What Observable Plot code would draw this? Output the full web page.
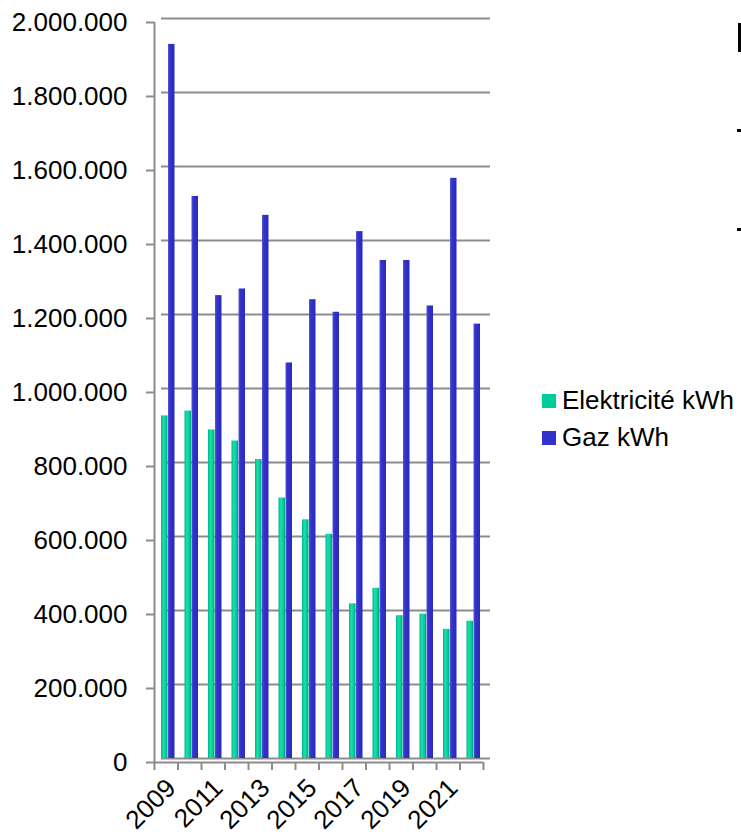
<!DOCTYPE html>
<html>
<head>
<meta charset="utf-8">
<script src="https://cdn.jsdelivr.net/npm/d3@7"></script>
<script src="https://cdn.jsdelivr.net/npm/@observablehq/plot@0.6"></script>
<style>
  html, body { margin: 0; padding: 0; background: #fff; overflow: hidden; }
  body { width: 741px; height: 835px; position: relative; font-family: "Liberation Sans", Arial, sans-serif; }
  #chart { position: absolute; left: 0; top: 0; }
  .legend { position: absolute; left: 542px; top: 382px; font-size: 26px; color: #000; line-height: 37px; }
  .legend div { display: flex; align-items: center; white-space: nowrap; }
  .legend span.sw { display: inline-block; width: 14px; height: 14px; margin-right: 6px; }
  .frag { position: absolute; background: #000; }
</style>
</head>
<body>
<div id="chart"></div>
<div class="legend" id="legend"></div>
<div class="frag" style="left:738px; top:23px; width:3px; height:29px;"></div>
<div class="frag" style="left:737px; top:129px; width:4px; height:3px;"></div>
<div class="frag" style="left:737px; top:228px; width:4px; height:3px;"></div>
<script>
const years = [2009, 2010, 2011, 2012, 2013, 2014, 2015, 2016, 2017, 2018, 2019, 2020, 2021, 2022];
const elektricite = [926000, 939000, 888000, 858000, 808000, 704000, 645000, 606000, 418000, 460000, 386000, 390000, 349000, 371000];
const gaz = [1930000, 1519000, 1251000, 1269000, 1468000, 1069000, 1240000, 1206000, 1424000, 1346000, 1346000, 1223000, 1568000, 1174000];
const yTicks = [0, 200000, 400000, 600000, 800000, 1000000, 1200000, 1400000, 1600000, 1800000, 2000000];
const yearLabels = [2009, 2011, 2013, 2015, 2017, 2019, 2021];
const seriesNames = ["Elektricité kWh", "Gaz kWh"];
const seriesColors = ["#00CC99", "#3333CC"];

const locale = d3.formatLocale({decimal: ",", thousands: ".", grouping: [3], currency: ["", " €"]});
const fmt = locale.format(",d");

const rows = years.map((y, i) => ({i, year: y, elek: elektricite[i], gaz: gaz[i]}));
const grid = "#8c8c8c";

const chart = Plot.plot({
  width: 741,
  height: 835,
  marginLeft: 154,
  marginRight: 258,
  marginTop: 22,
  marginBottom: 73,
  x: {type: "linear", domain: [0, years.length], axis: null, label: null},
  y: {domain: [0, 2000000], axis: null, label: null},
  style: {fontFamily: "'Liberation Sans', Arial, sans-serif", fontSize: "26px", color: "#000", background: "transparent", overflow: "visible"},
  marks: [
    Plot.ruleY(yTicks, {x1: 0, x2: years.length, dx: 7, dy: -4, stroke: grid, strokeWidth: 2}),
    Plot.ruleX([0], {stroke: grid, strokeWidth: 2}),
    Plot.ruleY([0], {x1: 0, x2: years.length, stroke: grid, strokeWidth: 2}),
    Plot.axisY({ticks: yTicks, tickFormat: fmt, tickSize: 8, tickPadding: 19, stroke: grid, strokeWidth: 2, fill: "#000", fontSize: 26, label: null}),
    Plot.axisX({ticks: d3.range(years.length + 1), tickFormat: () => "", tickSize: 8, tickPadding: 0, stroke: grid, strokeWidth: 2, label: null}),
    Plot.rectY(rows, {x1: "i", x2: d => d.i + 1, y1: 0, y2: "elek", insetLeft: 7, insetRight: 10, dy: -4, fill: "url(#gradGreen)"}),
    Plot.rectY(rows, {x1: "i", x2: d => d.i + 1, y1: 0, y2: "gaz", insetLeft: 14, insetRight: 3, dy: -4, fill: "url(#gradBlue)"}),
    Plot.text(yearLabels, {x: d => years.indexOf(d) + 0.5, frameAnchor: "bottom", text: d => String(d), rotate: -45, textAnchor: "end", lineAnchor: "bottom", dx: 11, dy: 27, fontSize: 26, fill: "#000"})
  ]
});

const svg = d3.select(chart);
const defs = svg.insert("defs", ":first-child");
const g1 = defs.append("linearGradient").attr("id", "gradGreen").attr("x1", "0").attr("x2", "1").attr("y1", "0").attr("y2", "0");
g1.append("stop").attr("offset", "0%").attr("stop-color", "#00b386");
g1.append("stop").attr("offset", "35%").attr("stop-color", "#19e0ae");
g1.append("stop").attr("offset", "75%").attr("stop-color", "#00CC99");
g1.append("stop").attr("offset", "100%").attr("stop-color", "#009e77");
const g2 = defs.append("linearGradient").attr("id", "gradBlue").attr("x1", "0").attr("x2", "1").attr("y1", "0").attr("y2", "0");
g2.append("stop").attr("offset", "0%").attr("stop-color", "#5555dd");
g2.append("stop").attr("offset", "30%").attr("stop-color", "#3333CC");
g2.append("stop").attr("offset", "100%").attr("stop-color", "#2a2ab8");

document.getElementById("chart").appendChild(chart);

const legend = document.getElementById("legend");
seriesNames.forEach((n, k) => {
  const row = document.createElement("div");
  const sw = document.createElement("span");
  sw.className = "sw";
  sw.style.background = seriesColors[k];
  row.appendChild(sw);
  row.appendChild(document.createTextNode(n));
  legend.appendChild(row);
});
</script>
</body>
</html>
